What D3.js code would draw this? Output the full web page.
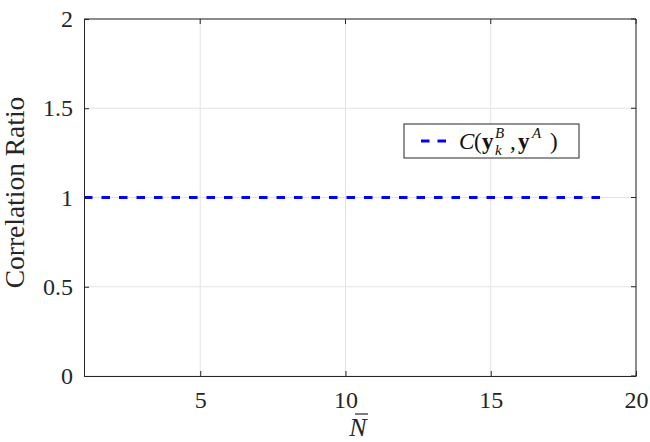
<!DOCTYPE html>
<html>
<head>
<meta charset="utf-8">
<script src="https://cdn.jsdelivr.net/npm/d3@7"></script>
<style>
  body { margin: 0; background: #fff; }
</style>
</head>
<body>
<div id="container"></div>
<script>
/**
 * CONSTANTS AND GLOBALS
 * */
const width = 650,
  height = 442,
  margin = { top: 19, bottom: 66, left: 84, right: 14 },
  serif = "'Liberation Serif', 'Times New Roman', Times, 'DejaVu Serif', serif";

// data
const nBar = [1, 2, 3, 4, 5, 6, 7, 8, 9, 10, 11, 12, 13, 14, 15, 16, 17, 18, 19];
const corrRatio = [1, 1, 1, 1, 1, 1, 1, 1, 1, 1, 1, 1, 1, 1, 1, 1, 1, 1, 1];
const xTicks = [5, 10, 15, 20];
const yTicks = [0, 0.5, 1, 1.5, 2];

const svg = d3.select("#container")
  .append("svg")
  .attr("width", width)
  .attr("height", height)
  .style("font-family", serif);

const xScale = d3.scaleLinear()
  .domain([1, 20])
  .range([margin.left, width - margin.right]);

const yScale = d3.scaleLinear()
  .domain([0, 2])
  .range([height - margin.bottom, margin.top]);

// grid
svg.append("g")
  .selectAll("line")
  .data(xTicks)
  .join("line")
  .attr("x1", d => xScale(d)).attr("x2", d => xScale(d))
  .attr("y1", margin.top).attr("y2", height - margin.bottom)
  .attr("stroke", "#e3e3e3");

svg.append("g")
  .selectAll("line")
  .data(yTicks)
  .join("line")
  .attr("x1", margin.left).attr("x2", width - margin.right)
  .attr("y1", d => yScale(d)).attr("y2", d => yScale(d))
  .attr("stroke", "#e3e3e3");

// data line
const lineGen = d3.line()
  .x((d, i) => xScale(nBar[i]))
  .y(d => yScale(d));

svg.append("path")
  .datum(corrRatio)
  .attr("d", lineGen)
  .attr("fill", "none")
  .attr("stroke", "#0000ff")
  .attr("stroke-width", 3)
  .attr("stroke-dasharray", "8.5,9");

// axes (ticks inward, MATLAB style)
const xAxis = svg.append("g")
  .attr("transform", `translate(0,${height - margin.bottom})`)
  .call(d3.axisBottom(xScale).tickValues(xTicks).tickSizeInner(-5).tickSizeOuter(0).tickPadding(15));

const yAxis = svg.append("g")
  .attr("transform", `translate(${margin.left},0)`)
  .call(d3.axisLeft(yScale).tickValues(yTicks).tickSizeInner(-5).tickSizeOuter(0).tickPadding(11).tickFormat(d3.format("")));

[xAxis, yAxis].forEach(ax => {
  ax.attr("font-family", null).attr("font-size", null);
  ax.select(".domain").attr("stroke", "#262626");
  ax.selectAll(".tick line").attr("stroke", "#262626");
  ax.selectAll(".tick text")
    .style("font-family", serif)
    .style("font-size", "24px")
    .attr("fill", "#262626");
});

// box top/right
svg.append("line")
  .attr("x1", margin.left).attr("x2", width - margin.right)
  .attr("y1", margin.top).attr("y2", margin.top)
  .attr("stroke", "#262626");
svg.append("line")
  .attr("x1", width - margin.right).attr("x2", width - margin.right)
  .attr("y1", margin.top).attr("y2", height - margin.bottom)
  .attr("stroke", "#262626");
svg.append("g").selectAll("line")
  .data(xTicks)
  .join("line")
  .attr("x1", d => xScale(d)).attr("x2", d => xScale(d))
  .attr("y1", margin.top).attr("y2", margin.top + 5)
  .attr("stroke", "#262626");
svg.append("g").selectAll("line")
  .data(yTicks)
  .join("line")
  .attr("x1", width - margin.right).attr("x2", width - margin.right - 5)
  .attr("y1", d => yScale(d)).attr("y2", d => yScale(d))
  .attr("stroke", "#262626");

// axis labels
svg.append("text")
  .attr("transform", `translate(24,${(margin.top + height - margin.bottom) / 2 - 5}) rotate(-90)`)
  .attr("text-anchor", "middle")
  .attr("fill", "#262626")
  .style("font-size", "27.5px")
  .text("Correlation Ratio");

svg.append("text")
  .attr("x", 358)
  .attr("y", 436)
  .attr("text-anchor", "middle")
  .attr("fill", "#262626")
  .style("font-size", "26px")
  .style("font-style", "italic")
  .text("N");
svg.append("line")
  .attr("x1", 355).attr("x2", 368)
  .attr("y1", 414).attr("y2", 414)
  .attr("stroke", "#262626").attr("stroke-width", 1.2);

// legend
const lg = svg.append("g");
lg.append("rect")
  .attr("x", 404).attr("y", 124)
  .attr("width", 175).attr("height", 34)
  .attr("fill", "#fff")
  .attr("stroke", "#262626");
lg.append("line")
  .attr("x1", 421).attr("x2", 448)
  .attr("y1", 141).attr("y2", 141)
  .attr("stroke", "#0000ff").attr("stroke-width", 3)
  .attr("stroke-dasharray", "8.5,8");

// legend label: C(y_k^B , y^A), placed piece by piece
const pieces = [
  { t: "C", x: 459, y: 149, size: 23, italic: true },
  { t: "(", x: 474, y: 149, size: 23 },
  { t: "y", x: 482, y: 149, size: 23, bold: true },
  { t: "B", x: 495, y: 138, size: 15, italic: true },
  { t: "k", x: 495, y: 155, size: 15, italic: true },
  { t: ",", x: 510, y: 149, size: 23 },
  { t: "y", x: 518, y: 149, size: 23, bold: true },
  { t: "A", x: 532, y: 138, size: 15, italic: true },
  { t: ")", x: 550, y: 149, size: 23 }
];
lg.selectAll("text.leg")
  .data(pieces)
  .join("text")
  .attr("class", "leg")
  .attr("x", d => d.x).attr("y", d => d.y)
  .attr("fill", "#111")
  .style("font-size", d => d.size + "px")
  .style("font-style", d => d.italic ? "italic" : "normal")
  .style("font-weight", d => d.bold ? "bold" : "normal")
  .text(d => d.t);
</script>
</body>
</html>
